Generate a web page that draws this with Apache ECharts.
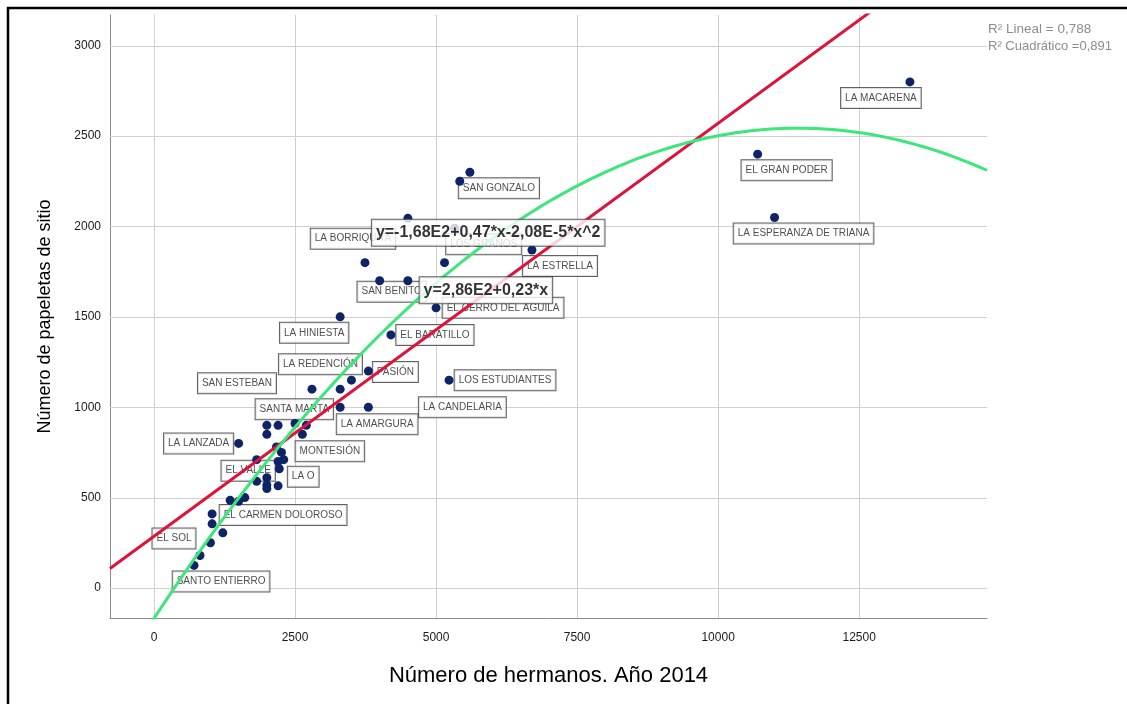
<!DOCTYPE html>
<html><head><meta charset="utf-8">
<script src="https://cdn.jsdelivr.net/npm/echarts@6/dist/echarts.min.js"></script>
<style>html,body{margin:0;padding:0;background:#fff}#c{width:1127px;height:704px}</style>
</head><body><div id="c"></div>
<script>
// ---- data ----
const hermanos  = [13400,10700,11000,5600,5420,4500,5330,6700,3740,5150,4000,4500,5000,3300,4200,3800,3500,5230,2800,3300,3800,3300,2000,2200,2500,2700,2000,2630,1500,2170,2260,2300,1820,2200,2220,2000,1820,2000,2200,2000,1610,1350,1500,1030,1030,1220,1000,815,710];
const papeletas = [2800,2400,2050,2300,2250,2045,1990,1870,1800,1800,1700,1700,1550,1500,1400,1200,1150,1150,1100,1100,1000,1000,900,900,910,900,850,850,800,780,750,710,710,700,660,610,590,570,565,550,500,485,480,410,355,305,250,180,125];
const nombres   = ["LA MACARENA","EL GRAN PODER","LA ESPERANZA DE TRIANA","SAN GONZALO","","","LOS GITANOS","LA ESTRELLA","LA BORRIQUITA","","SAN BENITO","","EL CERRO DEL AGUILA","LA HINIESTA","EL BARATILLO","PASIÓN","LA REDENCIÓN","LOS ESTUDIANTES","SAN ESTEBAN","","LA CANDELARIA","LA AMARGURA","SANTA MARTA","","","","","MONTESIÓN","LA LANZADA","","","","EL VALLE","","LA O","","","","","","","","","EL CARMEN DOLOROSO","","","","EL SOL","SANTO ENTIERRO"];
const xTicks = [0,2500,5000,7500,10000,12500];
const yTicks = [0,500,1000,1500,2000,2500,3000];
const linCoef  = [286, 0.2285];            // y = a + b*x
const quadCoef = [-168, 0.475, -2.08e-5];  // y = a + b*x + c*x^2
const eqLineal = 'y=2,86E2+0,23*x';
const eqCuad   = 'y=-1,68E2+0,47*x-2,08E-5*x^2';
const r2Text   = ['R² Lineal = 0,788', 'R² Cuadrático =0,891'];
const xTitle = 'Número de hermanos. Año 2014';
const yTitle = 'Número de papeletas de sitio';

// ---- layout / style ----
const xRange = [-780, 14766];
const yRange = [-166, 3170];
const labelOffset = {
  "LA MACARENA":[-29,16],"EL GRAN PODER":[29,16],"LA ESPERANZA DE TRIANA":[29,16],"SAN GONZALO":[29,16],
  "LOS GITANOS":[29,16],"LA ESTRELLA":[28,16],"LA BORRIQUITA":[-12,-24],"SAN BENITO":[12,11],
  "EL CERRO DEL AGUILA":[67,0],"LA HINIESTA":[-26,16],"EL BARATILLO":[44,0],"PASIÓN":[27,1],
  "LA REDENCIÓN":[-31,-16],"LOS ESTUDIANTES":[56,0],"SAN ESTEBAN":[-75,-6],"LA CANDELARIA":[94,0],
  "LA AMARGURA":[37,17],"SANTA MARTA":[27.5,-16],"MONTESIÓN":[27.5,17],"LA LANZADA":[-40,0],
  "EL VALLE":[-8.5,11],"LA O":[24,8],"EL CARMEN DOLOROSO":[71,1],"EL SOL":[-26,-17],"SANTO ENTIERRO":[27,16]
};
const FONT = 'Liberation Sans, Arial, sans-serif';

const lin  = x => linCoef[0] + linCoef[1]*x;
const quad = x => quadCoef[0] + quadCoef[1]*x + quadCoef[2]*x*x;

const pts = hermanos.map((x,i)=>[x, papeletas[i]]);
const labelData = [];
pts.forEach((p,i)=>{ if(nombres[i]) labelData.push({value:p, name:nombres[i], label:{offset:labelOffset[nombres[i]]||[29,16]}}); });

const linLine = [[xRange[0], lin(xRange[0])],[xRange[1], lin(xRange[1])]];
const quadLine = [];
const N = 150;
for (let k=0;k<=N;k++){ const x = xRange[0] + (xRange[1]-xRange[0])*k/N; quadLine.push([x, quad(x)]); }

const xEqLin = 5883, xEqQuad = 5924;
const boxLabel = {backgroundColor:'#ffffff', borderColor:'#3a3a3a', borderWidth:1, padding:[4,4,4,4]};

const chart = echarts.init(document.getElementById('c'));
chart.setOption({
  animation:false,
  backgroundColor:'#fff',
  grid:{left:110, right:140, top:15, bottom:86, containLabel:false},
  xAxis:{type:'value', min:xRange[0], max:xRange[1],
    splitLine:{show:false}, axisTick:{show:false},
    axisLine:{show:true, onZero:false, lineStyle:{color:'#8a8a8a', width:1}},
    axisLabel:{customValues:xTicks, formatter:v=>String(v), color:'#1a1a1a', fontSize:12, margin:14, fontFamily:FONT},
    name:xTitle, nameLocation:'middle', nameGap:47,
    nameTextStyle:{fontSize:22, color:'#000', fontFamily:FONT}},
  yAxis:{type:'value', min:yRange[0], max:yRange[1],
    splitLine:{show:false}, axisTick:{show:false},
    axisLine:{show:true, onZero:false, lineStyle:{color:'#8a8a8a', width:1}},
    axisLabel:{customValues:yTicks, formatter:v=>String(v), color:'#1a1a1a', fontSize:12, margin:9, fontFamily:FONT},
    name:yTitle, nameLocation:'middle', nameGap:56,
    nameTextStyle:{fontSize:18, color:'#000', fontFamily:FONT}},
  graphic:[
    {type:'rect', z:100, silent:true, shape:{x:8,y:8,width:1400,height:1000}, style:{fill:'rgba(0,0,0,0)', stroke:'#000', lineWidth:2.5}},
    {type:'text', z:100, left:988, top:22, style:{text:r2Text[0], fontSize:13.5, fill:'#8c8c8c', fontFamily:FONT}},
    {type:'text', z:100, left:988, top:40, style:{text:r2Text[1], fontSize:13, fill:'#8c8c8c', fontFamily:FONT}}
  ],
  series:[
    {type:'custom', z:1, silent:true, data:xTicks.map(v=>[v]),
      renderItem:(params, api)=>{ const cs=params.coordSys; const p=api.coord([api.value(0), 0]); const x=Math.round(p[0])+0.5;
        return {type:'line', shape:{x1:x,y1:cs.y,x2:x,y2:cs.y+cs.height}, style:{stroke:'#d0d0d0', lineWidth:1}}; }},
    {type:'custom', z:1, silent:true, data:yTicks.map(v=>[0, v]),
      renderItem:(params, api)=>{ const cs=params.coordSys; const p=api.coord([0, api.value(1)]); const y=Math.round(p[1])+0.5;
        return {type:'line', shape:{x1:cs.x,y1:y,x2:cs.x+cs.width,y2:y}, style:{stroke:'#d0d0d0', lineWidth:1}}; }},
    {type:'scatter', z:2, silent:true, symbolSize:1, itemStyle:{color:'rgba(0,0,0,0)'},
      emphasis:{disabled:true},
      data:labelData,
      label:Object.assign({show:true, position:'inside', formatter:'{b}', fontSize:10, lineHeight:12, color:'#222', fontFamily:FONT}, boxLabel)},
    {type:'scatter', z:3, silent:true, symbolSize:9, data:pts,
      itemStyle:{color:'#0f2466', opacity:1}},
    {type:'line', z:4, silent:true, data:linLine, showSymbol:false, symbol:'none', clip:true,
      lineStyle:{color:'#dc143c', width:3}},
    {type:'line', z:4, silent:true, data:quadLine, showSymbol:false, symbol:'none', clip:true, smooth:false,
      lineStyle:{color:'#3ce67a', width:3}},
    {type:'scatter', z:10, silent:true, symbolSize:0, emphasis:{disabled:true},
      data:[{value:[xEqQuad, quad(xEqQuad)], name:eqCuad, label:{offset:[0,-9]}},
            {value:[xEqLin, lin(xEqLin)], name:eqLineal, label:{offset:[0,-3]}}],
      label:Object.assign({show:true, position:'inside', formatter:'{b}', fontSize:16, fontWeight:'bold', lineHeight:18, color:'#000', fontFamily:FONT}, boxLabel)}
  ]
});
</script></body></html>
